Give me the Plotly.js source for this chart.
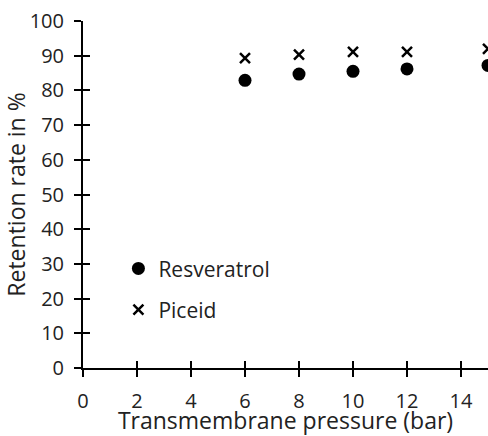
<!DOCTYPE html>
<html>
<head>
<meta charset="utf-8">
<script src="https://cdn.plot.ly/plotly-3.0.1.min.js"></script>
<style>html,body{margin:0;padding:0;background:#fff;}#chart{width:488px;height:436px;}</style>
</head>
<body>
<div id="chart"></div>
<script>
var pressure = [6, 8, 10, 12, 15];
var resveratrol = [82.9, 84.7, 85.5, 86.2, 87.2];
var piceid = [89.3, 90.3, 91.1, 91.1, 92.0];
var xTicks = [0, 2, 4, 6, 8, 10, 12, 14];
var yTicks = [0, 10, 20, 30, 40, 50, 60, 70, 80, 90, 100];

var FONT = 'Open Sans, sans-serif';
var traces = [
  {x: pressure, y: resveratrol, name: 'Resveratrol', type: 'scatter', mode: 'markers',
   legendgroup: 'a', cliponaxis: false,
   marker: {symbol: 'circle', size: 13, color: '#000'}},
  {x: pressure, y: piceid, name: 'Piceid', type: 'scatter', mode: 'markers',
   legendgroup: 'b', cliponaxis: false,
   marker: {symbol: 'x-thin', size: 10, color: '#000', line: {color: '#000', width: 2.5}}},
  {x: [], y: [], xaxis: 'x2', yaxis: 'y2', type: 'scatter', mode: 'markers', showlegend: false}
];

var axBase = {showgrid: false, zeroline: false, showline: true, linecolor: '#000', linewidth: 2,
  tickcolor: '#000', tickwidth: 2, tickmode: 'array', tickfont: {family: FONT, size: 20, color: '#222'}};
var xRange = [0, 15.0], yRange = [0, 100];

var layout = {
  width: 488, height: 436,
  margin: {l: 83, r: 0, t: 21, b: 68},
  paper_bgcolor: '#fff', plot_bgcolor: '#fff',
  showlegend: true,
  legend: {x: 0.0874, y: 0.345, xanchor: 'left', yanchor: 'top', bgcolor: 'rgba(0,0,0,0)',
    font: {family: FONT, size: 21, color: '#222'}, tracegroupgap: 11},
  xaxis: Object.assign({}, axBase, {range: xRange, tickvals: xTicks,
    ticks: 'outside', ticklen: 7, ticklabelstandoff: 7,
    title: {text: 'Transmembrane pressure (bar)', font: {family: FONT, size: 23, color: '#222'}, standoff: 0}}),
  yaxis: Object.assign({}, axBase, {range: yRange, tickvals: yTicks,
    ticks: 'outside', ticklen: 7, ticklabelstandoff: 6,
    title: {text: 'Retention rate in %', font: {family: FONT, size: 23, color: '#222'}, standoff: 2}}),
  xaxis2: Object.assign({}, axBase, {overlaying: 'x', anchor: 'y2', side: 'bottom', range: xRange, tickvals: xTicks,
    ticks: 'inside', ticklen: 7, showticklabels: false}),
  yaxis2: Object.assign({}, axBase, {overlaying: 'y', anchor: 'x2', side: 'left', range: yRange, tickvals: yTicks,
    ticks: 'inside', ticklen: 7, showticklabels: false})
};

Plotly.newPlot('chart', traces, layout, {displayModeBar: false, staticPlot: true});
</script>
</body>
</html>
